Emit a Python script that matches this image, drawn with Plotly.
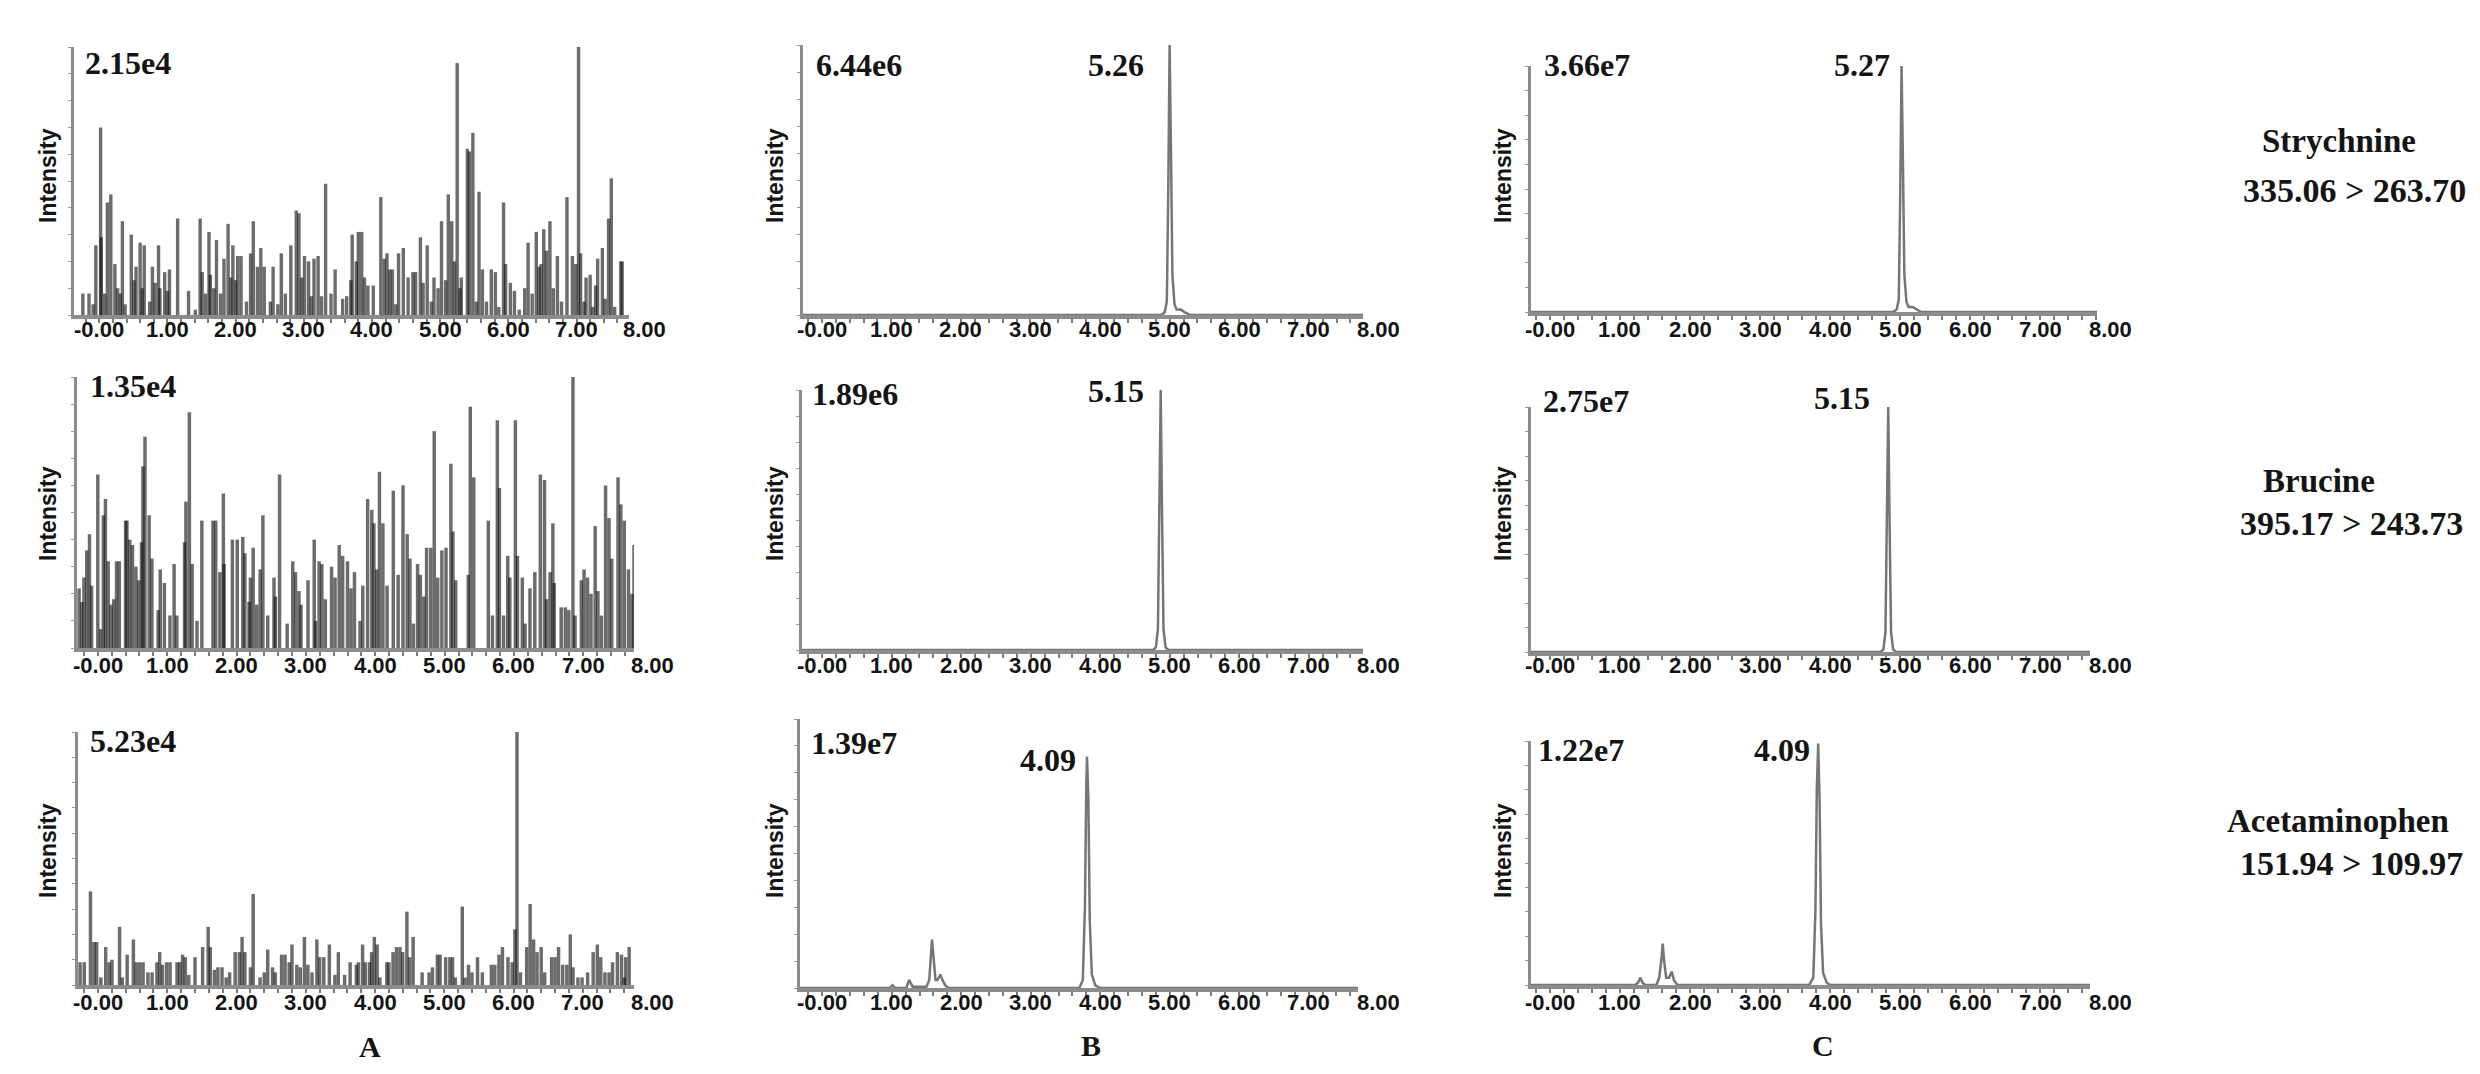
import plotly.graph_objects as go

W, H = 2480, 1074

# ---------------- data (relative intensity %, retention-time axis units) -------------
A1_peaks = [(-0.24,8),(-0.15,8),(-0.09,4),(-0.05,26),(0.02,70),(0.03,29),(0.08,8),(0.12,42),(0.17,45),(0.23,19),(0.27,10),(0.31,8),(0.34,35),(0.38,4),(0.47,30),(0.51,13),(0.54,18),(0.60,27),(0.63,10),(0.66,26),(0.74,5),(0.78,18),(0.82,12),(0.87,26),(0.89,10),(0.96,16),(1.00,9),(1.03,17),(1.15,36),(1.31,9),(1.41,2),(1.48,36),(1.51,16),(1.56,8),(1.61,31),(1.63,15),(1.68,10),(1.72,28),(1.78,8),(1.83,21),(1.89,34),(1.93,14),(1.96,26),(2.00,13),(2.03,22),(2.08,22),(2.16,5),(2.22,23),(2.26,35),(2.32,18),(2.37,25),(2.42,18),(2.51,5),(2.55,18),(2.62,4),(2.67,23),(2.73,8),(2.81,26),(2.89,39),(2.93,38),(2.97,14),(3.01,22),(3.07,20),(3.11,7),(3.15,21),(3.21,22),(3.26,7),(3.32,49),(3.40,8),(3.46,17),(3.57,6),(3.63,7),(3.69,13),(3.71,30),(3.77,20),(3.80,31),(3.85,31),(3.89,14),(3.94,11),(4.02,11),(4.13,44),(4.18,21),(4.22,23),(4.26,17),(4.30,17),(4.35,4),(4.39,23),(4.46,25),(4.53,14),(4.60,16),(4.64,16),(4.71,29),(4.75,12),(4.81,26),(4.87,5),(4.91,14),(4.97,10),(5.02,35),(5.08,13),(5.12,45),(5.17,35),(5.21,20),(5.25,94),(5.29,10),(5.31,14),(5.40,62),(5.43,61),(5.48,68),(5.53,5),(5.57,46),(5.62,17),(5.68,5),(5.75,17),(5.81,16),(5.86,3),(5.93,42),(5.96,19),(6.03,12),(6.09,9),(6.16,2),(6.24,10),(6.29,27),(6.35,8),(6.41,31),(6.45,18),(6.48,19),(6.52,32),(6.56,24),(6.61,35),(6.66,10),(6.72,22),(6.78,5),(6.86,44),(6.94,22),(6.99,19),(7.03,100),(7.06,23),(7.11,5),(7.14,14),(7.20,15),(7.24,3),(7.28,11),(7.31,21),(7.38,25),(7.42,6),(7.47,36),(7.51,51),(7.56,3),(7.65,20),(7.67,20)]

A2_peaks = [(-0.27,22),(-0.23,17),(-0.20,26),(-0.16,36),(-0.12,42),(-0.09,23),(0.00,64),(0.04,7),(0.08,49),(0.11,55),(0.15,32),(0.19,16),(0.23,18),(0.27,32),(0.31,32),(0.40,47),(0.42,47),(0.46,40),(0.50,38),(0.55,30),(0.59,25),(0.63,39),(0.65,67),(0.68,78),(0.74,49),(0.78,33),(0.87,14),(0.90,29),(0.96,24),(1.04,12),(1.10,31),(1.14,12),(1.25,39),(1.27,54),(1.32,87),(1.36,31),(1.43,10),(1.50,47),(1.66,47),(1.70,47),(1.76,28),(1.81,57),(1.82,31),(1.94,40),(2.01,40),(2.09,41),(2.12,35),(2.18,17),(2.20,26),(2.24,37),(2.29,16),(2.34,29),(2.38,49),(2.45,12),(2.54,26),(2.56,19),(2.62,64),(2.73,9),(2.81,32),(2.85,28),(2.90,21),(2.93,16),(3.03,25),(3.12,40),(3.14,10),(3.19,32),(3.23,31),(3.28,18),(3.37,30),(3.42,26),(3.48,38),(3.53,34),(3.60,32),(3.65,22),(3.70,28),(3.78,10),(3.82,23),(3.89,55),(3.95,51),(3.98,46),(4.02,29),(4.06,65),(4.11,46),(4.17,23),(4.26,58),(4.33,27),(4.40,60),(4.46,42),(4.50,33),(4.55,9),(4.61,31),(4.65,27),(4.70,19),(4.74,37),(4.80,37),(4.85,80),(4.90,26),(4.96,36),(5.02,37),(5.09,68),(5.12,43),(5.16,25),(5.34,27),(5.37,89),(5.42,63),(5.63,47),(5.69,12),(5.76,84),(5.79,59),(5.85,12),(5.91,34),(5.94,26),(6.02,84),(6.05,34),(6.12,26),(6.16,9),(6.23,22),(6.30,28),(6.38,64),(6.44,62),(6.47,18),(6.52,28),(6.56,46),(6.58,24),(6.68,15),(6.74,15),(6.79,14),(6.85,100),(6.88,12),(6.97,25),(7.01,29),(7.06,26),(7.11,20),(7.17,45),(7.21,21),(7.26,12),(7.32,60),(7.37,48),(7.41,33),(7.50,63),(7.54,53),(7.59,47),(7.65,29),(7.70,20),(7.73,38)]

A3_peaks = [(-0.26,9),(-0.20,9),(-0.11,37),(-0.06,17),(-0.02,17),(0.04,3),(0.11,15),(0.16,9),(0.20,10),(0.31,23),(0.35,3),(0.42,12),(0.51,18),(0.55,9),(0.60,9),(0.65,9),(0.72,5),(0.78,5),(0.85,9),(0.89,13),(0.93,8),(0.99,9),(1.04,9),(1.14,9),(1.18,9),(1.22,12),(1.26,11),(1.31,4),(1.40,11),(1.51,15),(1.59,23),(1.62,15),(1.68,6),(1.73,7),(1.79,7),(1.85,3),(1.90,5),(1.98,13),(2.04,13),(2.08,19),(2.12,13),(2.20,7),(2.24,36),(2.34,3),(2.40,5),(2.45,14),(2.52,7),(2.56,5),(2.65,12),(2.70,12),(2.76,9),(2.80,16),(2.87,8),(2.92,7),(2.98,19),(3.03,8),(3.09,5),(3.16,18),(3.20,11),(3.26,11),(3.34,16),(3.42,4),(3.47,13),(3.56,4),(3.64,9),(3.73,8),(3.76,9),(3.82,16),(3.86,9),(3.92,9),(3.95,13),(3.99,19),(4.03,16),(4.07,3),(4.17,9),(4.20,9),(4.26,13),(4.31,15),(4.36,15),(4.40,13),(4.46,29),(4.50,11),(4.55,19),(4.68,5),(4.78,5),(4.83,7),(4.90,12),(4.94,12),(5.02,11),(5.08,11),(5.12,11),(5.16,3),(5.26,31),(5.30,3),(5.35,8),(5.40,5),(5.48,11),(5.55,5),(5.68,8),(5.73,8),(5.79,12),(5.84,15),(5.92,11),(5.98,9),(6.02,22),(6.05,100),(6.10,5),(6.19,15),(6.24,32),(6.29,18),(6.34,13),(6.40,15),(6.45,5),(6.55,11),(6.60,11),(6.65,15),(6.71,8),(6.77,8),(6.82,20),(6.86,7),(6.93,3),(6.99,3),(7.07,5),(7.15,13),(7.21,16),(7.26,11),(7.32,5),(7.38,5),(7.43,9),(7.50,13),(7.56,12),(7.60,3),(7.62,11),(7.67,15)]

B1_rt = [-0.27, 4.88, 4.93, 4.96, 4.98, 5.00, 5.02, 5.04, 5.07, 5.10, 5.16, 5.22, 5.30, 7.78]
B1_int = [0, 0, 1, 5, 45, 100, 60, 15, 4, 2, 2, 1, 0, 0]
B2_rt = [-0.29, 4.76, 4.80, 4.83, 4.85, 4.87, 4.89, 4.91, 4.94, 4.98, 7.78]
B2_int = [0, 0, 1, 8, 55, 100, 50, 8, 1, 0, 0]
B3_rt = [-0.32, 0.97, 1.01, 1.05, 1.21, 1.25, 1.30, 1.50, 1.54, 1.56, 1.58, 1.60, 1.63, 1.66, 1.70, 1.73, 1.77, 1.82, 3.70, 3.75, 3.78, 3.80, 3.81, 3.83, 3.85, 3.88, 3.93, 4.00, 7.71]
B3_int = [0, 0, 1, 0, 0, 3, 0.5, 0.5, 3, 10, 18, 12, 3, 3, 5, 3, 1, 0, 0, 3, 30, 75, 86, 70, 25, 5, 1, 0, 0]
C1_rt = [-0.27, 4.90, 4.95, 4.98, 5.00, 5.02, 5.04, 5.06, 5.09, 5.12, 5.18, 5.24, 5.30, 7.81]
C1_int = [0, 0, 1, 5, 45, 100, 60, 15, 4, 2, 2, 1, 0, 0]
C2_rt = [-0.27, 4.72, 4.76, 4.79, 4.81, 4.83, 4.85, 4.87, 4.90, 4.94, 7.71]
C2_int = [0, 0, 1, 8, 55, 100, 50, 8, 1, 0, 0]
C3_rt = [-0.27, 1.22, 1.26, 1.29, 1.32, 1.36, 1.52, 1.56, 1.59, 1.61, 1.63, 1.66, 1.70, 1.74, 1.77, 1.82, 3.70, 3.76, 3.79, 3.81, 3.83, 3.85, 3.87, 3.90, 3.95, 4.00, 7.71]
C3_int = [0, 0, 1, 3, 1, 0, 0, 3, 10, 17, 10, 3, 3, 5.5, 2, 0, 0, 3, 30, 80, 99, 75, 25, 5, 1, 0, 0]

MAX_LABELS = ["2.15e4", "6.44e6", "3.66e7",
              "1.35e4", "1.89e6", "2.75e7",
              "5.23e4", "1.39e7", "1.22e7"]
RT_LABELS = [None, "5.26", "5.27",
             None, "5.15", "5.15",
             None, "4.09", "4.09"]
COMPOUNDS = ["Strychnine", "Brucine", "Acetaminophen"]
TRANSITIONS = ["335.06 > 263.70", "395.17 > 243.73", "151.94 > 109.97"]
COLUMN_LABELS = ["A", "B", "C"]
TICK_POS = [0, 1, 2, 3, 4, 5, 6, 7, 8]
TICK_LABELS = ["-0.00", "1.00", "2.00", "3.00", "4.00", "5.00", "6.00", "7.00", "8.00"]

# ---------------- layout geometry (pixels) -------------
# (left, right, top, bottom, rt_left, rt_right)
PANELS = [
    (66, 621, 39, 307, -0.37, 7.77),
    (795, 1355, 37, 307, -0.27, 7.78),
    (1523, 2089, 58, 304, -0.27, 7.81),
    (69, 626, 369, 640, -0.30, 7.73),
    (794, 1355, 382, 642, -0.29, 7.78),
    (1523, 2082, 399, 644, -0.27, 7.71),
    (70, 626, 724, 977, -0.29, 7.74),
    (792, 1350, 711, 980, -0.32, 7.71),
    (1523, 2082, 733, 977, -0.27, 7.71),
]
TICK_ROW_Y = [321, 657, 994]
MAXLAB_POS = [(120, 55), (851, 57), (1579, 57),
              (125, 378), (847, 386), (1578, 393),
              (125, 733), (846, 735), (1573, 742)]
RTLAB_POS = [None, (1108, 57), (1854, 57),
             None, (1108, 383), (1834, 390),
             None, (1040, 752), (1774, 742)]
INT_X = [40, 767, 1495]
INT_Y = [168, 506, 843]
COMP_POS = [(2331, 133), (2311, 473), (2330, 813)]
TRANS_POS = [(2346, 182), (2343, 515), (2343, 855)]
COL_POS = [(362, 1038), (1083, 1037), (1815, 1037)]


def px(x):
    return x / W


def py(y):
    return 1 - y / H


SERIF = "Liberation Serif, Times New Roman, serif"
SANS = "Liberation Sans, Arial, sans-serif"
INK = "#141414"
AXC = "#8c8c8c"

fig = go.Figure()
layout = dict(width=W, height=H, margin=dict(l=0, r=0, t=0, b=0),
              paper_bgcolor="white", plot_bgcolor="white", showlegend=False)
annotations = []

line_data = {1: (B1_rt, B1_int), 2: (C1_rt, C1_int), 4: (B2_rt, B2_int),
             5: (C2_rt, C2_int), 7: (B3_rt, B3_int), 8: (C3_rt, C3_int)}
bar_data = {0: A1_peaks, 3: A2_peaks, 6: A3_peaks}

for i, (L, R, T, B, r0, r1) in enumerate(PANELS):
    n = i + 1
    xn = "x" if n == 1 else f"x{n}"
    yn = "y" if n == 1 else f"y{n}"
    xk = "xaxis" if n == 1 else f"xaxis{n}"
    yk = "yaxis" if n == 1 else f"yaxis{n}"
    layout[xk] = dict(domain=[px(L), px(R)], range=[r0, r1], anchor=yn,
                      showline=True, linecolor=AXC, linewidth=4,
                      ticks="outside", tickmode="linear", tick0=0, dtick=0.2,
                      ticklen=4, tickwidth=1.5, tickcolor="#7a7a7a",
                      showticklabels=False, showgrid=False, zeroline=False)
    layout[yk] = dict(domain=[py(B), py(T)], range=[0, 100], anchor=xn,
                      showline=True, linecolor=AXC, linewidth=3,
                      ticks="outside", tickmode="linear", tick0=0, dtick=10,
                      ticklen=3, tickwidth=1.2, tickcolor="#9a9a9a",
                      showticklabels=False, showgrid=False, zeroline=False)
    if i in bar_data:
        pk = bar_data[i]
        fig.add_trace(go.Bar(x=[p[0] for p in pk], y=[p[1] for p in pk],
                             width=0.05,
                             marker=dict(color="rgba(10,10,10,0.6)", line=dict(width=0)),
                             xaxis=xn, yaxis=yn))
    else:
        xs, ys = line_data[i]
        fig.add_trace(go.Scatter(x=xs, y=ys, mode="lines",
                                 line=dict(color="#767676", width=2.5),
                                 xaxis=xn, yaxis=yn, cliponaxis=False))
    row = i // 3
    col = i % 3
    for tp, tl in zip(TICK_POS, TICK_LABELS):
        xpix = L + (tp - r0) / (r1 - r0) * (R - L)
        annotations.append(dict(x=px(xpix), y=py(TICK_ROW_Y[row]), xref="paper", yref="paper",
                                text=f"<b>{tl}</b>", showarrow=False,
                                xanchor="center", yanchor="middle",
                                font=dict(family=SANS, size=22, color=INK)))
    mx, my = MAXLAB_POS[i]
    annotations.append(dict(x=px(mx), y=py(my), xref="paper", yref="paper",
                            text=f"<b>{MAX_LABELS[i]}</b>", showarrow=False,
                            xanchor="center", yanchor="middle",
                            font=dict(family=SERIF, size=32, color=INK)))
    if RT_LABELS[i]:
        rx, ry = RTLAB_POS[i]
        annotations.append(dict(x=px(rx), y=py(ry), xref="paper", yref="paper",
                                text=f"<b>{RT_LABELS[i]}</b>", showarrow=False,
                                xanchor="center", yanchor="middle",
                                font=dict(family=SERIF, size=32, color=INK)))
    annotations.append(dict(x=px(INT_X[col]), y=py(INT_Y[row]), xref="paper", yref="paper",
                            text="<b>Intensity</b>", showarrow=False, textangle=-90,
                            xanchor="center", yanchor="middle",
                            font=dict(family=SANS, size=23, color=INK)))

for r in range(3):
    cx, cy = COMP_POS[r]
    annotations.append(dict(x=px(cx), y=py(cy), xref="paper", yref="paper",
                            text=f"<b>{COMPOUNDS[r]}</b>", showarrow=False,
                            xanchor="center", yanchor="middle",
                            font=dict(family=SERIF, size=33, color=INK)))
    tx, ty = TRANS_POS[r]
    annotations.append(dict(x=px(tx), y=py(ty), xref="paper", yref="paper",
                            text=f"<b>{TRANSITIONS[r]}</b>", showarrow=False,
                            xanchor="center", yanchor="middle",
                            font=dict(family=SERIF, size=34, color=INK)))
for c in range(3):
    lx, ly = COL_POS[c]
    annotations.append(dict(x=px(lx), y=py(ly), xref="paper", yref="paper",
                            text=f"<b>{COLUMN_LABELS[c]}</b>", showarrow=False,
                            xanchor="center", yanchor="middle",
                            font=dict(family=SERIF, size=30, color=INK)))

layout["annotations"] = annotations
fig.update_layout(**layout)
fig.write_html("out.html")
